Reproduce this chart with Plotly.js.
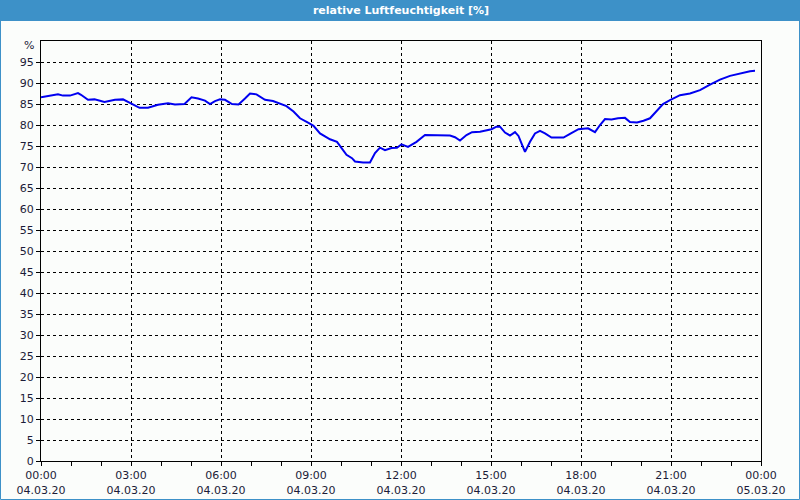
<!DOCTYPE html>
<html>
<head>
<meta charset="utf-8">
<script src="https://cdn.plot.ly/plotly-3.0.1.min.js"></script>
<style>
html,body{margin:0;padding:0;background:#fbfdfb;}
#chart{width:800px;height:500px;}
</style>
</head>
<body>
<div id="chart"></div>
<script>
// Data (time on 04.03.20, relative humidity %)
const times = [
"00:00","00:17","00:34","00:44","00:58","01:14","01:20","01:34","01:47","02:07",
"02:28","02:44","02:54","03:07","03:17","03:34","03:54","04:14","04:28","04:47",
"05:01","05:14","05:28","05:38","05:48","05:58","06:08","06:22","06:35","06:48",
"06:58","07:11","07:28","07:44","07:58","08:11","08:25","08:38","08:55","09:05",
"09:18","09:31","09:38","09:52","10:01","10:11","10:22","10:28","10:44","10:58",
"11:08","11:18","11:28","11:41","11:52","12:01","12:14","12:31","12:48","13:05",
"13:18","13:38","13:48","13:58","14:11","14:22","14:38","14:48","15:01","15:11",
"15:18","15:28","15:38","15:48","15:55","16:01","16:08","16:18","16:28","16:38",
"16:48","17:01","17:25","17:38","17:55","18:14","18:28","18:38","18:48","19:01",
"19:14","19:28","19:38","19:52","20:05","20:18","20:31","20:44","20:58","21:18",
"21:38","21:58","22:18","22:38","22:58","23:18","23:38","23:48"
];
const humidity = [
86.6,87.0,87.3,87.0,87.0,87.6,87.2,86.0,86.1,85.5,
86.0,86.1,85.5,84.8,84.1,84.1,84.8,85.2,84.9,85.0,
86.6,86.3,85.8,85.0,85.7,86.1,86.0,85.0,84.9,86.3,
87.5,87.3,86.0,85.7,85.0,84.5,83.2,81.6,80.5,79.8,
78.0,77.0,76.6,76.0,74.4,72.9,72.1,71.3,71.1,71.1,
73.3,74.6,74.0,74.5,74.6,75.4,74.8,76.0,77.6,77.6,
77.5,77.5,77.1,76.3,77.6,78.3,78.4,78.6,79.0,79.6,
79.6,78.2,77.5,78.3,77.4,75.6,73.6,76.0,78.0,78.6,
78.0,77.0,77.0,77.9,79.0,79.2,78.3,80.0,81.4,81.3,
81.6,81.7,80.7,80.6,81.0,81.6,83.3,85.0,85.9,87.1,
87.5,88.3,89.6,90.8,91.7,92.3,92.8,92.9
];
const xTickVals = ["2020-03-04 00:00","2020-03-04 03:00","2020-03-04 06:00","2020-03-04 09:00",
  "2020-03-04 12:00","2020-03-04 15:00","2020-03-04 18:00","2020-03-04 21:00","2020-03-05 00:00"];
const xTickText = ["00:00<br>04.03.20","03:00<br>04.03.20","06:00<br>04.03.20","09:00<br>04.03.20",
  "12:00<br>04.03.20","15:00<br>04.03.20","18:00<br>04.03.20","21:00<br>04.03.20","00:00<br>05.03.20"];
const yTickVals = [0,5,10,15,20,25,30,35,40,45,50,55,60,65,70,75,80,85,90,95];
const yTickText = ["0","5","10","15","20","25","30","35","40","45","50","55","60","65","70","75","80","85","90","95"];
const yUnit = "%";
const chartTitle = "relative Luftfeuchtigkeit [%]";

const xs = times.map(t => "2020-03-04 " + t);

const W = 800, H = 500, ml = 41, mr = 39, mt = 41, mb = 39;
const pw = W - ml - mr, ph = H - mt - mb;
const px = v => (v - ml) / pw;          // pixel x -> paper x
const py = v => (H - mb - v) / ph;      // pixel y -> paper y

const tickFont = {family: "DejaVu Sans, Verdana, sans-serif", size: 11, color: "#1c1c38"};

const trace = {
  x: xs, y: humidity, type: "scatter", mode: "lines",
  line: {color: "#0000f0", width: 2},
  hoverinfo: "skip", showlegend: false
};

const layout = {
  width: W, height: H,
  margin: {l: ml, r: mr, t: mt, b: mb, pad: 0},
  paper_bgcolor: "#fbfdfb", plot_bgcolor: "#fbfdfb",
  title: {text: "<b>" + chartTitle + "</b>", x: 0.5, xanchor: "center", y: 1 - 10/H, yanchor: "middle",
          xref: "paper",
          font: {family: "DejaVu Sans, Verdana, sans-serif", size: 11, color: "#ffffff"}},
  xaxis: {
    type: "date", range: ["2020-03-04 00:00", "2020-03-05 00:00"],
    tickmode: "array", tickvals: xTickVals, ticktext: xTickText,
    showgrid: true, gridcolor: "#000000", gridwidth: 1, griddash: "3px,3px",
    showline: true, linecolor: "#000000", linewidth: 1, mirror: true,
    ticks: "outside", ticklen: 4, tickcolor: "#000000", tickwidth: 1,
    minor: {tickmode: "linear", tick0: "2020-03-04 00:00", dtick: 3600000, ticks: "outside",
            ticklen: 4, tickcolor: "#000000", showgrid: false},
    tickfont: tickFont, zeroline: false, fixedrange: true
  },
  yaxis: {
    range: [0, 100], tickmode: "array", tickvals: yTickVals, ticktext: yTickText,
    showgrid: true, gridcolor: "#000000", gridwidth: 1, griddash: "3px,3px",
    showline: true, linecolor: "#000000", linewidth: 1, mirror: true,
    ticks: "outside", ticklen: 4, tickcolor: "#000000", tickwidth: 1,
    tickfont: tickFont, zeroline: false, fixedrange: true
  },
  annotations: [
    {text: yUnit, xref: "paper", yref: "paper", x: px(36), y: py(46), xanchor: "right", yanchor: "middle",
     showarrow: false, font: tickFont}
  ],
  shapes: [
    // title bar
    {type: "rect", xref: "paper", yref: "paper", x0: px(0), x1: px(W), y0: py(21), y1: py(0),
     fillcolor: "#3d91c8", line: {width: 0}, layer: "below"},
    // outer frame
    {type: "rect", xref: "paper", yref: "paper", x0: px(0.5), x1: px(W - 0.5), y0: py(H - 0.5), y1: py(0.5),
     fillcolor: "rgba(0,0,0,0)", line: {color: "#3d91c8", width: 1}, layer: "below"}
  ]
};

Plotly.newPlot("chart", [trace], layout, {staticPlot: true, displayModeBar: false});
</script>
</body>
</html>
